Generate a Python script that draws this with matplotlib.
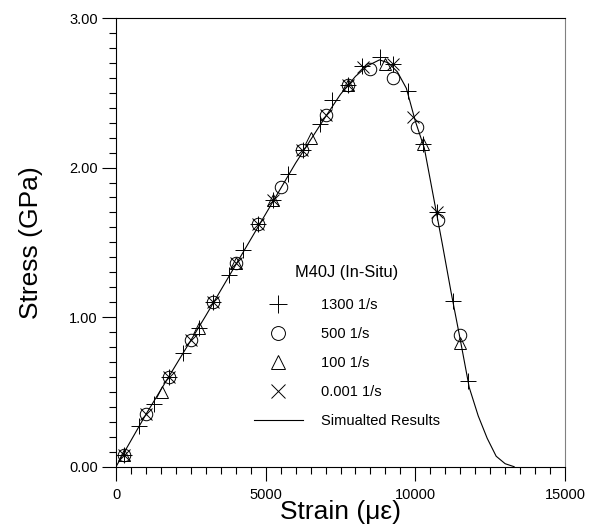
import matplotlib.pyplot as plt
from matplotlib.lines import Line2D
from matplotlib.ticker import MultipleLocator, FormatStrFormatter

plt.rcParams['font.family'] = ['Liberation Sans', 'DejaVu Sans']

# simulated curve
sim_strain = [0, 1000, 2000, 3000, 4000, 5000, 6000, 7000, 7500, 8000, 8400,
              8800, 9100, 9400, 9700, 10000, 10300, 10600, 10900, 11200, 11500,
              11800, 12100, 12400, 12700, 13000, 13300]
sim_stress = [0.0, 0.35, 0.68, 1.01, 1.35, 1.69, 2.03, 2.34, 2.49, 2.61, 2.68,
              2.72, 2.70, 2.64, 2.53, 2.31, 2.13, 1.81, 1.49, 1.16, 0.85,
              0.53, 0.34, 0.19, 0.07, 0.02, 0.0]

# 1300 1/s
s1300_x = [270, 770, 1270, 1760, 2250, 2760, 3250, 3780, 4250, 4760, 5260, 5760,
           6250, 6820, 7210, 7760, 8210, 8820, 9260, 9770, 10270, 10710, 11250, 11750]
s1300_y = [0.08, 0.27, 0.42, 0.60, 0.76, 0.93, 1.10, 1.28, 1.45, 1.62, 1.78, 1.96,
           2.12, 2.29, 2.45, 2.55, 2.68, 2.74, 2.69, 2.51, 2.16, 1.70, 1.11, 0.57]
# 500 1/s
s500_x = [270, 1000, 1760, 2510, 3250, 4000, 4760, 5500, 6200, 7020, 7760,
          8490, 9260, 10050, 10770, 11490]
s500_y = [0.08, 0.35, 0.60, 0.85, 1.10, 1.36, 1.62, 1.87, 2.12, 2.35, 2.55,
          2.66, 2.60, 2.27, 1.65, 0.88]
# 100 1/s
s100_x = [270, 1530, 2760, 4000, 5260, 6500, 7760, 8990, 10270, 11490]
s100_y = [0.08, 0.50, 0.93, 1.36, 1.78, 2.20, 2.55, 2.69, 2.16, 0.83]
# 0.001 1/s
s0001_x = [270, 1000, 1760, 2510, 3250, 4000, 4760, 5260, 6200, 7020, 7760,
           8250, 9260, 9930, 10710]
s0001_y = [0.08, 0.35, 0.60, 0.85, 1.10, 1.36, 1.62, 1.78, 2.12, 2.35, 2.55,
           2.67, 2.69, 2.34, 1.70]

fig = plt.figure(figsize=(5.94, 5.28), dpi=100)
ax = fig.add_axes([0.1953, 0.1161, 0.7559, 0.8498])

mk = dict(linestyle='none', color='black', markerfacecolor='none', markeredgewidth=0.7, zorder=3)
ax.plot(sim_strain, sim_stress, color='black', lw=0.8, zorder=2)
ax.plot(s1300_x, s1300_y, marker='+', markersize=12, **mk)
ax.plot(s500_x, s500_y, marker='o', markersize=9, **mk)
ax.plot(s100_x, s100_y, marker='^', markersize=9, **mk)
ax.plot(s0001_x, s0001_y, marker='x', markersize=9, **mk)

ax.set_xlim(0, 15000)
ax.set_ylim(0, 3)
ax.xaxis.set_major_locator(MultipleLocator(5000))
ax.xaxis.set_minor_locator(MultipleLocator(500))
ax.yaxis.set_major_locator(MultipleLocator(1))
ax.yaxis.set_minor_locator(MultipleLocator(0.1))
ax.yaxis.set_major_formatter(FormatStrFormatter('%.2f'))
ax.tick_params(which='major', length=10, width=0.8, labelsize=10.5)
ax.tick_params(which='minor', length=5, width=0.8)
ax.tick_params(axis='x', which='major', pad=5)
ax.tick_params(axis='y', which='major', pad=3)
for side in ['left', 'bottom', 'top']:
    ax.spines[side].set_linewidth(0.8)
ax.spines['right'].set_color('#808080')
ax.spines['right'].set_linewidth(0.8)

ax.set_xlabel('Strain (με)', fontsize=19, labelpad=-1)
ax.set_ylabel('Stress (GPa)', fontsize=19, labelpad=19)

handles = [
    Line2D([0], [0], marker='+', markersize=13, **mk),
    Line2D([0], [0], marker='o', markersize=10, **mk),
    Line2D([0], [0], marker='^', markersize=10, **mk),
    Line2D([0], [0], marker='x', markersize=9.5, **mk),
    Line2D([0], [0], color='black', lw=0.8),
]
labels = ['1300 1/s', '500 1/s', '100 1/s', '0.001 1/s', 'Simualted Results']
leg = ax.legend(handles, labels, title='M40J (In-Situ)', loc='upper left',
                bbox_to_anchor=(0.29, 0.466), frameon=False, fontsize=10.5,
                title_fontsize=11.8, handlelength=3.4, handletextpad=1.2,
                labelspacing=1.03, borderpad=0)
leg._legend_box.sep = 13

fig.savefig('out.png', dpi=100)
